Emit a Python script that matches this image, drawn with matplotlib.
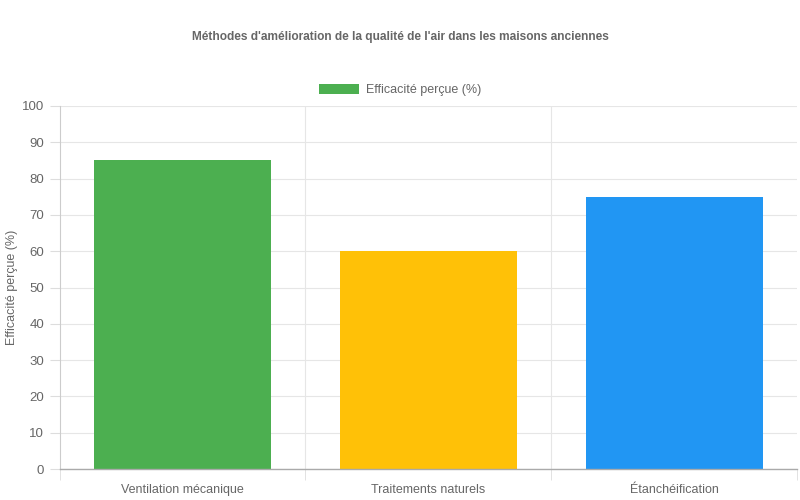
import matplotlib.pyplot as plt
from matplotlib.patches import Patch

methods = ["Ventilation mécanique", "Traitements naturels", "Étanchéification"]
efficacite = [85, 60, 75]
bar_colors = ["#4CAF50", "#FFC107", "#2196F3"]
yticks = list(range(0, 101, 10))

plt.rcParams['font.family'] = ['Liberation Sans', 'DejaVu Sans']

fig = plt.figure(figsize=(8, 5), dpi=100)
ax = fig.add_axes([59.5 / 800, 31 / 500, (797 - 59.5) / 800, (469 - 106) / 500])

x = list(range(len(methods)))
ax.bar(x, efficacite, width=0.72, color=bar_colors, zorder=2)

ax.set_xlim(-0.5, len(methods) - 0.5)
ax.set_ylim(0, 100)
ax.set_yticks(yticks)
ax.set_yticklabels([str(v) for v in yticks], fontsize=9.5, color="#666666")
ax.set_xticks(x)
ax.set_xticklabels(methods, fontsize=9, color="#666666")
ax.tick_params(axis="x", length=0, pad=11)
ax.tick_params(axis="y", length=7, color="#dddddd", pad=4)

# category boundaries: vertical grid + ticks below axis
bounds = [i - 0.5 for i in range(len(methods) + 1)]
ax.set_xticks(bounds, minor=True)
ax.tick_params(axis="x", which="minor", length=8, color="#dddddd")
for b in bounds[1:-1]:
    ax.axvline(b, color="#e6e6e6", lw=0.8, zorder=1)
ax.grid(axis="y", color="#e6e6e6", lw=0.8, zorder=1)

for s in ["top", "right"]:
    ax.spines[s].set_visible(False)
ax.spines["left"].set_color("#cccccc")
ax.spines["bottom"].set_color("#aaaaaa")
ax.spines["left"].set_linewidth(0.8)
ax.spines["bottom"].set_linewidth(1.0)

ax.set_ylabel("Efficacité perçue (%)", fontsize=9, color="#666666", labelpad=3)

fig.text(0.5, 1 - 37 / 500, "Méthodes d'amélioration de la qualité de l'air dans les maisons anciennes",
         ha="center", va="center", fontsize=8.6, fontweight="bold", color="#666666")

ax.legend(handles=[Patch(facecolor="#4CAF50", label="Efficacité perçue (%)")],
          loc="center", bbox_to_anchor=(400 / 800, 1 - 90 / 500), bbox_transform=fig.transFigure,
          frameon=False, fontsize=9, labelcolor="#666666", handlelength=3.2, handleheight=0.85,
          handletextpad=0.5)

fig.savefig("out.png", dpi=100)
